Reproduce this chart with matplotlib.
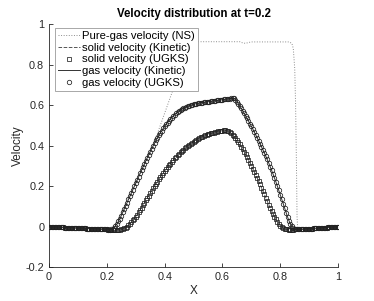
import numpy as np
import matplotlib
matplotlib.use("Agg")
import matplotlib.pyplot as plt

plt.rcParams['font.family'] = ['Liberation Sans', 'DejaVu Sans']

# cell centres of the 1D grid (201 points on [0, 1])
x_cells = np.linspace(0.0, 1.0, 201)

# gas velocity (Kinetic and UGKS overlap)
gas_vel = [
    0.000, -0.000, -0.001, -0.001, -0.001, -0.002, -0.002, -0.002, -0.003, -0.003,
    -0.003, -0.004, -0.004, -0.004, -0.005, -0.005, -0.005, -0.006, -0.006, -0.006,
    -0.007, -0.007, -0.007, -0.008, -0.008, -0.008, -0.009, -0.009, -0.009, -0.010,
    -0.010, -0.010, -0.011, -0.011, -0.011, -0.012, -0.012, -0.012, -0.013, -0.013,
    -0.013, -0.014, -0.014, -0.013, -0.010, -0.004, 0.004, 0.014, 0.026, 0.040,
    0.055, 0.071, 0.087, 0.103, 0.119, 0.135, 0.151, 0.167, 0.183, 0.199,
    0.215, 0.231, 0.247, 0.263, 0.279, 0.295, 0.311, 0.326, 0.341, 0.356,
    0.371, 0.385, 0.399, 0.413, 0.426, 0.439, 0.451, 0.463, 0.474, 0.485,
    0.495, 0.505, 0.514, 0.523, 0.531, 0.539, 0.546, 0.553, 0.559, 0.565,
    0.570, 0.575, 0.580, 0.584, 0.588, 0.592, 0.595, 0.598, 0.600, 0.602,
    0.604, 0.606, 0.608, 0.609, 0.611, 0.612, 0.613, 0.614, 0.615, 0.616,
    0.617, 0.618, 0.619, 0.620, 0.621, 0.622, 0.623, 0.624, 0.625, 0.626,
    0.627, 0.628, 0.629, 0.630, 0.631, 0.632, 0.633, 0.634, 0.633, 0.627,
    0.618, 0.607, 0.596, 0.584, 0.572, 0.560, 0.548, 0.535, 0.522, 0.509,
    0.496, 0.482, 0.468, 0.454, 0.440, 0.425, 0.410, 0.395, 0.380, 0.364,
    0.348, 0.332, 0.315, 0.297, 0.279, 0.260, 0.241, 0.221, 0.200, 0.179,
    0.158, 0.136, 0.114, 0.092, 0.070, 0.049, 0.030, 0.014, 0.002, -0.007,
    -0.011, -0.013, -0.013, -0.013, -0.013, -0.012, -0.012, -0.011, -0.011, -0.010,
    -0.010, -0.009, -0.009, -0.008, -0.008, -0.007, -0.007, -0.006, -0.006, -0.005,
    -0.005, -0.004, -0.004, -0.003, -0.003, -0.002, -0.002, -0.001, -0.001, 0.000,
    0.000,
]

# solid velocity (Kinetic and UGKS overlap)
solid_vel = [
    0.000, -0.000, -0.001, -0.001, -0.001, -0.002, -0.002, -0.002, -0.003, -0.003,
    -0.003, -0.004, -0.004, -0.004, -0.005, -0.005, -0.005, -0.006, -0.006, -0.006,
    -0.007, -0.007, -0.007, -0.008, -0.008, -0.008, -0.009, -0.009, -0.009, -0.010,
    -0.010, -0.010, -0.011, -0.011, -0.011, -0.012, -0.012, -0.012, -0.013, -0.013,
    -0.013, -0.014, -0.014, -0.014, -0.015, -0.015, -0.015, -0.014, -0.014, -0.014,
    -0.013, -0.011, -0.008, -0.004, 0.001, 0.007, 0.014, 0.022, 0.031, 0.040,
    0.050, 0.060, 0.071, 0.082, 0.094, 0.106, 0.118, 0.130, 0.142, 0.154,
    0.166, 0.178, 0.190, 0.201, 0.212, 0.223, 0.234, 0.245, 0.255, 0.265,
    0.275, 0.285, 0.294, 0.303, 0.312, 0.321, 0.329, 0.337, 0.345, 0.353,
    0.360, 0.367, 0.374, 0.381, 0.387, 0.393, 0.399, 0.405, 0.410, 0.415,
    0.420, 0.425, 0.430, 0.434, 0.438, 0.442, 0.445, 0.448, 0.451, 0.454,
    0.457, 0.459, 0.461, 0.463, 0.465, 0.467, 0.469, 0.470, 0.472, 0.473,
    0.474, 0.475, 0.475, 0.474, 0.472, 0.467, 0.461, 0.454, 0.446, 0.437,
    0.427, 0.417, 0.406, 0.395, 0.383, 0.371, 0.358, 0.345, 0.331, 0.317,
    0.302, 0.287, 0.272, 0.257, 0.241, 0.225, 0.209, 0.193, 0.177, 0.160,
    0.143, 0.126, 0.109, 0.093, 0.078, 0.063, 0.049, 0.036, 0.024, 0.014,
    0.005, -0.002, -0.007, -0.010, -0.012, -0.013, -0.014, -0.014, -0.014, -0.014,
    -0.013, -0.013, -0.013, -0.013, -0.013, -0.012, -0.012, -0.011, -0.011, -0.010,
    -0.010, -0.009, -0.009, -0.008, -0.008, -0.007, -0.007, -0.006, -0.006, -0.005,
    -0.005, -0.004, -0.004, -0.003, -0.003, -0.002, -0.002, -0.001, -0.001, 0.000,
    0.000,
]

# pure-gas Navier-Stokes solution
ns_x = [0.0, 0.1, 0.2, 0.22, 0.23, 0.24, 0.25, 0.26, 0.27, 0.28, 0.29, 0.30,
        0.31, 0.32, 0.33, 0.34, 0.35, 0.36, 0.38, 0.40, 0.42, 0.44, 0.46, 0.48,
        0.49, 0.50, 0.51, 0.52, 0.66, 0.67, 0.68, 0.69, 0.70, 0.83, 0.84, 0.845,
        0.85, 0.853, 0.856, 0.858, 0.86, 0.87, 1.0]
ns_vel = [0.0, -0.005, -0.01, 0.0, 0.015, 0.04, 0.07, 0.10, 0.13, 0.16, 0.19, 0.22,
          0.25, 0.28, 0.31, 0.34, 0.37, 0.40, 0.48, 0.56, 0.64, 0.72, 0.80, 0.87,
          0.895, 0.908, 0.912, 0.913, 0.913, 0.907, 0.905, 0.909, 0.912, 0.912, 0.905, 0.88,
          0.78, 0.6, 0.3, 0.05, -0.005, -0.012, 0.0]

x_ticks = [0, 0.2, 0.4, 0.6, 0.8, 1]
x_ticklabels = ['0', '0.2', '0.4', '0.6', '0.8', '1']
y_ticks = [-0.2, 0, 0.2, 0.4, 0.6, 0.8, 1]
y_ticklabels = ['-0.2', '0', '0.2', '0.4', '0.6', '0.8', '1']

fig = plt.figure(figsize=(3.74, 3.01), dpi=100)
ax = fig.add_axes([0.131, 0.112, 0.773, 0.808])

ax.plot(ns_x, ns_vel, ':', color='#8c8c8c', lw=0.7, label='Pure-gas velocity (NS)')
ax.plot(x_cells, solid_vel, '--', color='#555555', lw=0.7, label='solid velocity (Kinetic)')
ax.plot(x_cells, solid_vel, 's', mfc='none', mec='#222222', ms=2.8, mew=0.55,
        label='solid velocity (UGKS)')
ax.plot(x_cells, gas_vel, '-', color='#333333', lw=0.7, label='gas velocity (Kinetic)')
ax.plot(x_cells, gas_vel, 'o', mfc='none', mec='#222222', ms=3.2, mew=0.55,
        label='gas velocity (UGKS)')

ax.set_xlim(0, 1)
ax.set_ylim(-0.2, 1)
ax.set_xticks(x_ticks)
ax.set_xticklabels(x_ticklabels)
ax.set_yticks(y_ticks)
ax.set_yticklabels(y_ticklabels)
ax.tick_params(direction='in', length=3, width=0.6, labelsize=7.8, colors='#262626')
for side in ['top', 'right']:
    ax.spines[side].set_visible(False)
for side in ['left', 'bottom']:
    ax.spines[side].set_linewidth(0.6)
    ax.spines[side].set_color('#262626')

ax.set_xlabel('X', fontsize=8.5, color='#262626', labelpad=2)
ax.set_ylabel('Velocity', fontsize=8.5, color='#262626', labelpad=1)
ax.set_title('Velocity distribution at t=0.2', fontsize=8.3, fontweight='bold', pad=5)

leg = ax.legend(loc='upper left', bbox_to_anchor=(0.02, 0.985), fontsize=8.1,
                frameon=True, fancybox=False, edgecolor='#9a9a9a', framealpha=1,
                handlelength=1.9, handletextpad=0.2, labelspacing=0.15,
                borderpad=0.3, borderaxespad=0.0, markerscale=1.0)
leg.get_frame().set_linewidth(0.6)

fig.savefig('out.png', dpi=100)
